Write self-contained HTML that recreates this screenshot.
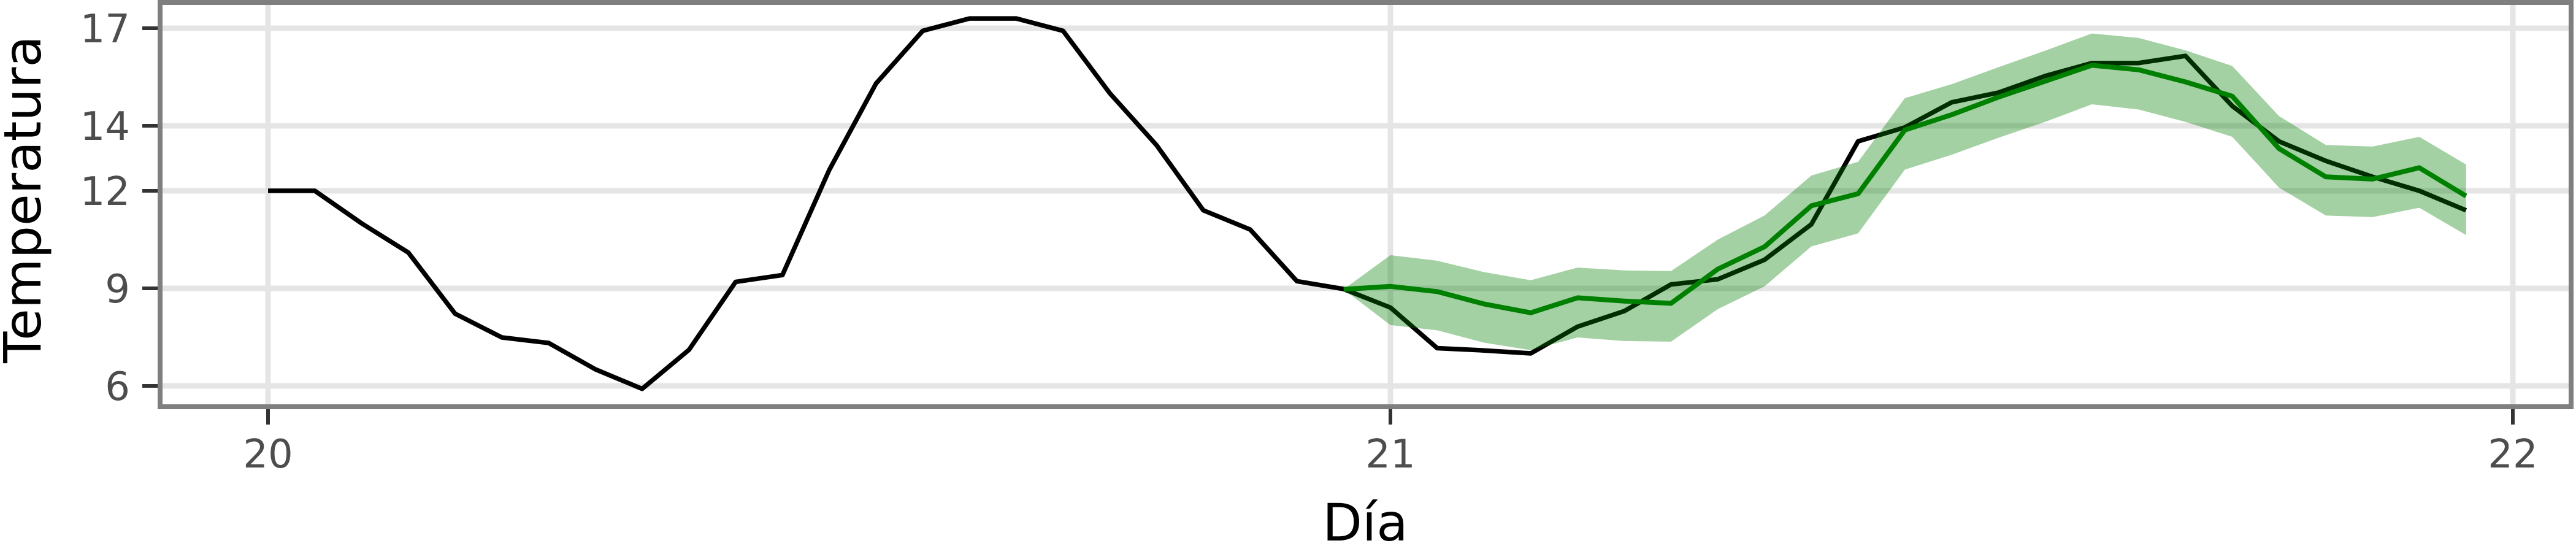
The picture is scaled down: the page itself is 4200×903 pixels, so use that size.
<!DOCTYPE html>
<html><head><meta charset="utf-8"><style>
html,body{margin:0;padding:0;background:#fff;}
svg{display:block;}
</style></head><body>
<svg id="chart" width="4200" height="903" viewBox="0 0 4200 903" xmlns="http://www.w3.org/2000/svg" font-family="'DejaVu Sans','Liberation Sans',sans-serif">
<rect x="0" y="0" width="4200" height="903" fill="#fff"/>
<g id="grid"></g>
<g id="series"></g>
<rect x="261" y="4" width="3931" height="659" fill="none" stroke="#7f7f7f" stroke-width="8"/>
<g id="axes"></g>
<text x="2226" y="881" font-size="84" text-anchor="middle" fill="#000">Día</text>
<text transform="translate(66,325) rotate(-90)" font-size="84" text-anchor="middle" fill="#000">Temperatura</text>
</svg>
<script>
const xTicks = [20, 21, 22];
const yTicks = [6, 9, 12, 14, 17];
const observed = [12.0,12.0,11.0,10.1,8.22,7.49,7.32,6.51,5.91,7.11,9.2,9.41,12.64,15.3,16.92,17.3,17.3,16.92,15.0,13.4,11.4,10.81,9.22,8.98,
  8.41,7.16,7.09,7.0,7.82,8.30,9.12,9.28,9.88,10.97,13.52,13.95,14.72,15.02,15.53,15.93,15.93,16.15,14.61,13.52,12.92,12.43,12.0,11.40];
const forecastMean = [8.97,9.06,8.90,8.52,8.25,8.71,8.61,8.54,9.59,10.28,11.54,11.91,13.87,14.34,14.88,15.37,15.86,15.72,15.35,14.91,13.30,12.43,12.36,12.71,11.84];
const forecastUpper = [8.97,10.02,9.85,9.50,9.25,9.64,9.55,9.53,10.5,11.24,12.47,12.89,14.85,15.28,15.80,16.31,16.84,16.70,16.32,15.84,14.30,13.41,13.36,13.66,12.81];
const forecastLower = [8.97,7.87,7.71,7.33,7.10,7.49,7.38,7.36,8.36,9.06,10.29,10.69,12.65,13.11,13.63,14.12,14.66,14.50,14.12,13.66,12.10,11.24,11.19,11.48,10.64];
const obsStart = 20, fcStart = 20 + 23/24, stepDay = 1/24;

const NS = 'http://www.w3.org/2000/svg';
const X = d => 437 + (d - 20) * 1830;
const Y = v => 629 - (v - 6) * 53;
function mk(tag, attrs, parent) {
  const e = document.createElementNS(NS, tag);
  for (const k in attrs) e.setAttribute(k, attrs[k]);
  parent.appendChild(e);
  return e;
}
const grid = document.getElementById('grid');
const axes = document.getElementById('axes');
const series = document.getElementById('series');
yTicks.forEach(v => {
  const g = mk('line', {x1: 261, x2: 4192, y1: Y(v), y2: Y(v), stroke: '#e5e5e5', 'stroke-width': 9}, grid);
  
  
  const t = mk('line', {x1: 232, x2: 257, y1: Y(v), y2: Y(v), stroke: '#333', 'stroke-width': 6}, axes);
  
  
  const l = mk('text', {x: 212, y: Y(v) + 23, 'font-size': 64, 'text-anchor': 'end', fill: '#4d4d4d'}, axes);
  l.textContent = v;
  
  
});
xTicks.forEach(d => {
  const g = mk('line', {x1: X(d), x2: X(d), y1: 4, y2: 663, stroke: '#e5e5e5', 'stroke-width': 9}, grid);
  
  
  const t = mk('line', {x1: X(d), x2: X(d), y1: 667, y2: 692, stroke: '#333', 'stroke-width': 6}, axes);
  
  
  const l = mk('text', {x: X(d), y: 762, 'font-size': 64, 'text-anchor': 'middle', fill: '#4d4d4d'}, axes);
  l.textContent = d;
  
  
});
const pts = (arr, start) => arr.map((v, i) => X(start + i * stepDay).toFixed(1) + ',' + Y(v).toFixed(1));
const obs = mk('polyline', {points: pts(observed, obsStart).join(' '), fill: 'none', stroke: '#000', 'stroke-width': 7.5, 'stroke-linejoin': 'round'}, series);


const up = pts(forecastUpper, fcStart);
const lo = pts(forecastLower, fcStart).reverse();
const band = mk('polygon', {points: up.concat(lo).join(' '), fill: '#008000', 'fill-opacity': 0.36, stroke: 'none'}, series);


const fc = mk('polyline', {points: pts(forecastMean, fcStart).join(' '), fill: 'none', stroke: '#008000', 'stroke-width': 8, 'stroke-linejoin': 'round'}, series);


</script>
</body></html>
